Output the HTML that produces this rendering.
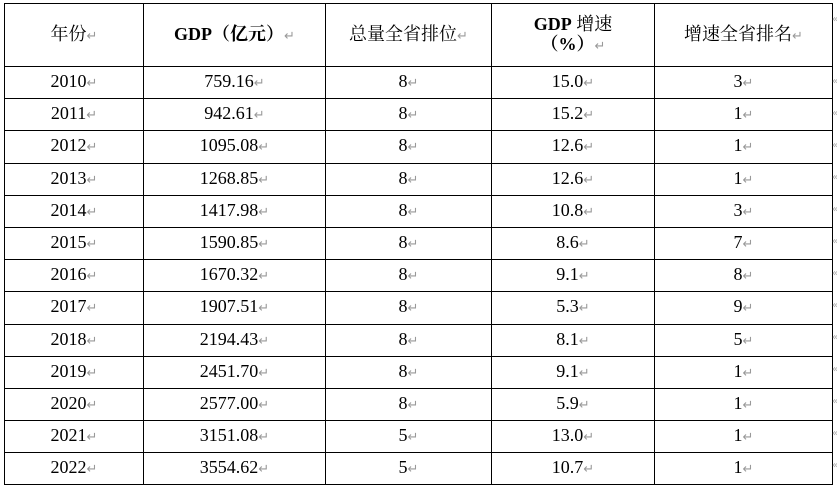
<!DOCTYPE html>
<html><head><meta charset="utf-8"><style>
html,body{margin:0;padding:0;background:#fff;width:837px;height:490px;overflow:hidden;position:relative}
table{position:absolute;left:4px;top:3px;border-collapse:collapse;table-layout:fixed;font-family:"Liberation Serif","Noto Serif CJK SC",serif;font-size:18px;color:#000}
td{border:1px solid #000;text-align:center;padding:0;height:31.2px;line-height:20px}
tr.h td{height:62px;font-size:18px}
b{font-weight:bold}
i{font-style:normal;color:#999;font-size:13px;font-family:"DejaVu Sans",sans-serif}
.m{position:absolute;left:832px;color:#aaa;font-size:10px;font-family:"DejaVu Sans",sans-serif}
</style></head><body>
<table>
<colgroup><col style="width:139px"><col style="width:182px"><col style="width:166px"><col style="width:163px"><col style="width:178px"></colgroup>
<tr class="h"><td>年份<i>↵</i></td><td><b>GDP（亿元）</b><i>↵</i></td><td>总量全省排位<i>↵</i></td><td><b>GDP</b> 增速<br><b>（%）</b><i>↵</i></td><td>增速全省排名<i>↵</i></td></tr>
<tr><td>2010<i>↵</i></td><td>759.16<i>↵</i></td><td>8<i>↵</i></td><td>15.0<i>↵</i></td><td>3<i>↵</i></td></tr>
<tr><td>2011<i>↵</i></td><td>942.61<i>↵</i></td><td>8<i>↵</i></td><td>15.2<i>↵</i></td><td>1<i>↵</i></td></tr>
<tr><td>2012<i>↵</i></td><td>1095.08<i>↵</i></td><td>8<i>↵</i></td><td>12.6<i>↵</i></td><td>1<i>↵</i></td></tr>
<tr><td>2013<i>↵</i></td><td>1268.85<i>↵</i></td><td>8<i>↵</i></td><td>12.6<i>↵</i></td><td>1<i>↵</i></td></tr>
<tr><td>2014<i>↵</i></td><td>1417.98<i>↵</i></td><td>8<i>↵</i></td><td>10.8<i>↵</i></td><td>3<i>↵</i></td></tr>
<tr><td>2015<i>↵</i></td><td>1590.85<i>↵</i></td><td>8<i>↵</i></td><td>8.6<i>↵</i></td><td>7<i>↵</i></td></tr>
<tr><td>2016<i>↵</i></td><td>1670.32<i>↵</i></td><td>8<i>↵</i></td><td>9.1<i>↵</i></td><td>8<i>↵</i></td></tr>
<tr><td>2017<i>↵</i></td><td>1907.51<i>↵</i></td><td>8<i>↵</i></td><td>5.3<i>↵</i></td><td>9<i>↵</i></td></tr>
<tr><td>2018<i>↵</i></td><td>2194.43<i>↵</i></td><td>8<i>↵</i></td><td>8.1<i>↵</i></td><td>5<i>↵</i></td></tr>
<tr><td>2019<i>↵</i></td><td>2451.70<i>↵</i></td><td>8<i>↵</i></td><td>9.1<i>↵</i></td><td>1<i>↵</i></td></tr>
<tr><td>2020<i>↵</i></td><td>2577.00<i>↵</i></td><td>8<i>↵</i></td><td>5.9<i>↵</i></td><td>1<i>↵</i></td></tr>
<tr><td>2021<i>↵</i></td><td>3151.08<i>↵</i></td><td>5<i>↵</i></td><td>13.0<i>↵</i></td><td>1<i>↵</i></td></tr>
<tr><td>2022<i>↵</i></td><td>3554.62<i>↵</i></td><td>5<i>↵</i></td><td>10.7<i>↵</i></td><td>1<i>↵</i></td></tr>
</table>
<div class="m" style="top:14px">«</div>
<div class="m" style="top:76px">«</div>
<div class="m" style="top:108px">«</div>
<div class="m" style="top:140px">«</div>
<div class="m" style="top:172px">«</div>
<div class="m" style="top:204px">«</div>
<div class="m" style="top:236px">«</div>
<div class="m" style="top:268px">«</div>
<div class="m" style="top:300px">«</div>
<div class="m" style="top:332px">«</div>
<div class="m" style="top:364px">«</div>
<div class="m" style="top:396px">«</div>
<div class="m" style="top:428px">«</div>
<div class="m" style="top:460px">«</div>
</body></html>
